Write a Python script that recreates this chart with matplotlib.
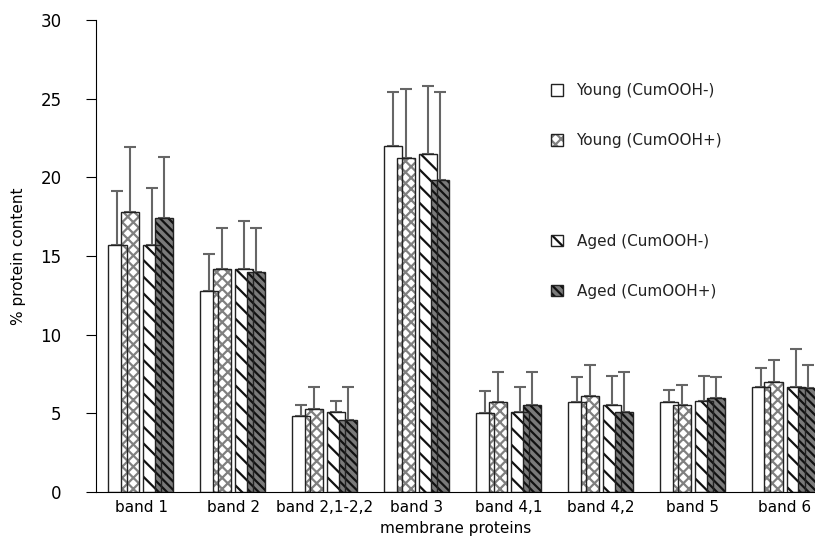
import numpy as np
import matplotlib
matplotlib.use("Agg")
import matplotlib.pyplot as plt

plt.rcParams['font.family'] = ['DejaVu Sans']
plt.rcParams['hatch.linewidth'] = 1.6

bands = ["band 1", "band 2", "band 2,1-2,2", "band 3", "band 4,1", "band 4,2", "band 5", "band 6"]
series = ["Young (CumOOH-)", "Young (CumOOH+)", "Aged (CumOOH-)", "Aged (CumOOH+)"]

young_minus = [15.7, 12.8, 4.8, 22.0, 5.0, 5.7, 5.7, 6.7]
young_plus = [17.8, 14.2, 5.3, 21.2, 5.7, 6.1, 5.5, 7.0]
aged_minus = [15.7, 14.2, 5.1, 21.5, 5.1, 5.5, 5.8, 6.7]
aged_plus = [17.4, 14.0, 4.6, 19.8, 5.5, 5.1, 6.0, 6.6]

# top of the error bars
young_minus_top = [19.1, 15.1, 5.5, 25.4, 6.4, 7.3, 6.5, 7.9]
young_plus_top = [21.9, 16.8, 6.7, 25.6, 7.6, 8.1, 6.8, 8.4]
aged_minus_top = [19.3, 17.2, 5.8, 25.8, 6.7, 7.4, 7.4, 9.1]
aged_plus_top = [21.3, 16.8, 6.7, 25.4, 7.6, 7.6, 7.3, 8.1]

values = [young_minus, young_plus, aged_minus, aged_plus]
tops = [young_minus_top, young_plus_top, aged_minus_top, aged_plus_top]

offsets = [-0.26, -0.12, 0.12, 0.25]
width = 0.2
# (face, hatch, hatch colour)
styles = [("white", "", "black"),
          ("white", "xxx", "#808080"),
          ("white", "\\\\", "#111111"),
          ("#7a7a7a", "\\\\\\\\", "#111111")]

fig = plt.figure(figsize=(8.15, 5.6), dpi=100)
ax = fig.add_axes([0.118, 0.1214, 0.882, 0.8429])

x = np.arange(len(bands))
handles = []
for i in range(4):
    face, hatch, hcol = styles[i]
    v = np.array(values[i])
    err = np.array(tops[i]) - v
    ax.errorbar(x + offsets[i], v, yerr=[np.zeros_like(err), err], fmt="none",
                ecolor="#666666", elinewidth=1.5, capsize=4, capthick=1.5, zorder=1)
    ax.bar(x + offsets[i], v, width, color=face, edgecolor=hcol, hatch=hatch,
           linewidth=0, zorder=2)
    ax.bar(x + offsets[i], v, width, fill=False, edgecolor="#222222",
           linewidth=1.0, zorder=3)
    fill_patch = plt.Rectangle((0, 0), 1, 1, facecolor=face, edgecolor=hcol,
                               hatch=hatch, linewidth=0)
    outline = plt.Rectangle((0, 0), 1, 1, fill=False, edgecolor="#222222", linewidth=1.0)
    handles.append((fill_patch, outline))

blank = plt.Rectangle((0, 0), 1, 1, fill=False, edgecolor="none")
leg_handles = [handles[0], handles[1], blank, handles[2], handles[3]]
leg_labels = [series[0], series[1], "", series[2], series[3]]
leg = ax.legend(leg_handles, leg_labels, loc="upper left", bbox_to_anchor=(0.613, 0.895),
                frameon=False, fontsize=11, labelspacing=2.3, handlelength=0.8,
                handleheight=0.8, handletextpad=0.9)
for t in leg.get_texts():
    t.set_color("#222222")

ax.set_ylim(0, 30)
ax.set_xlim(-0.49, 7.33)
ax.set_yticks([0, 5, 10, 15, 20, 25, 30])
ax.set_xticks(x)
ax.set_xticklabels(bands, fontsize=11)
ax.tick_params(axis="y", labelsize=12, length=7, direction="out", pad=18)
ax.tick_params(axis="x", length=0, pad=6)
ax.spines["top"].set_visible(False)
ax.spines["right"].set_visible(False)
ax.set_ylabel("% protein content", fontsize=11, labelpad=10)
ax.set_xlabel("membrane proteins", fontsize=11, labelpad=4)

fig.savefig("out.png", dpi=100)
